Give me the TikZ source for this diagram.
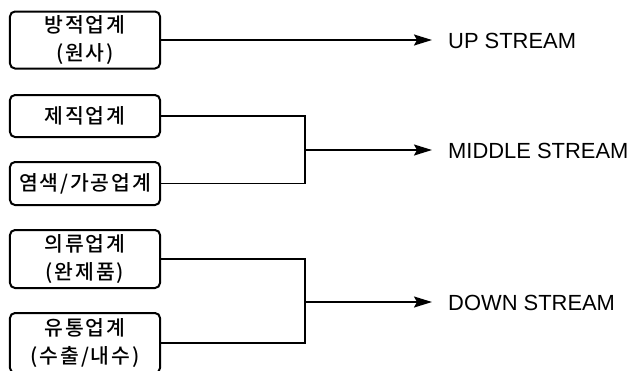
\documentclass[tikz,border=0pt]{standalone}
\usepackage{fontspec}
\setmainfont{Liberation Sans}
\newfontfamily\krfont{Noto Sans CJK KR Medium}[LetterSpace=9]
\usetikzlibrary{arrows.meta}
\begin{document}
\begin{tikzpicture}[x=1bp,y=-1bp,
  firm/.style={draw, line width=2bp, rounded corners=5bp, minimum width=150bp,
    inner sep=0pt, align=center, font=\krfont\fontsize{20.5}{29}\selectfont},
  link/.style={line width=1.8bp},
  flow/.style={line width=1.8bp, -{Stealth[length=18bp,width=11bp,inset=3bp]}},
  stage/.style={anchor=west, inner sep=0pt, font=\fontsize{22}{24}\selectfont}]
\useasboundingbox (0,0) rectangle (634,370);

% industry boxes
\node[firm, minimum height=57bp] (b1) at (85,40) {방적업계\\(원사)};
\node[firm, minimum height=42bp] (b2) at (85,116) {제직업계};
\node[firm, minimum height=43bp] (b3) at (85,183.5) {염색/가공업계};
\node[firm, minimum height=58bp] (b4) at (85,259) {의류업계\\(완제품)};
\node[firm, minimum height=60bp] (b5) at (85,343) {유통업계\\(수출/내수)};

% junctions and arrow ends
\coordinate (jm) at (305,150);
\coordinate (jd) at (305,302);
\coordinate (tu) at (432,40);
\coordinate (tm) at (432,150);
\coordinate (td) at (432,302);

% stage labels
\node[stage] (lu) at (448,41) {UP STREAM};
\node[stage] (lm) at (448,151) {MIDDLE STREAM};
\node[stage] (ld) at (448,303) {DOWN STREAM};

% connectors
\draw[flow] (b1.east) -- (tu);
\draw[link] (b2.east) -- (b2.east -| jm) -- (b3.east -| jm) -- (b3.east);
\draw[flow] (jm) -- (tm);
\draw[link] (b4.east) -- (b4.east -| jd) -- (b5.east -| jd) -- (b5.east);
\draw[flow] (jd) -- (td);
\end{tikzpicture}
\end{document}
